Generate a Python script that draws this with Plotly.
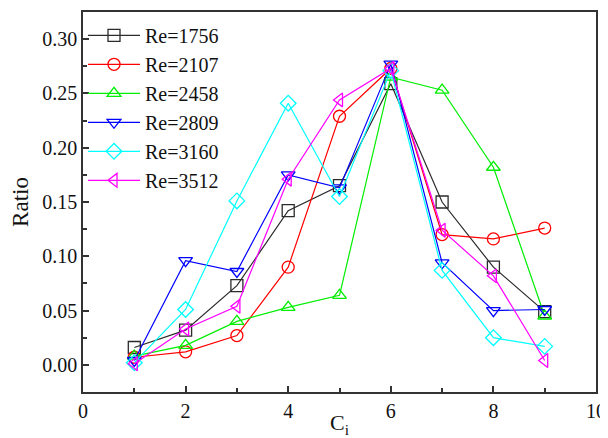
import plotly.graph_objects as go

ci = [1, 2, 3, 4, 5, 6, 7, 8, 9]
names = ["Re=1756", "Re=2107", "Re=2458", "Re=2809", "Re=3160", "Re=3512"]
re1756 = [0.016, 0.032, 0.073, 0.142, 0.165, 0.259, 0.150, 0.090, 0.049]
re2107 = [0.007, 0.012, 0.027, 0.090, 0.229, 0.273, 0.120, 0.116, 0.126]
re2458 = [0.008, 0.018, 0.040, 0.053, 0.064, 0.265, 0.253, 0.182, 0.045]
re2809 = [0.004, 0.096, 0.086, 0.175, 0.163, 0.277, 0.094, 0.050, 0.051]
re3160 = [0.002, 0.051, 0.151, 0.241, 0.155, 0.271, 0.087, 0.025, 0.017]
re3512 = [0.001, 0.033, 0.054, 0.171, 0.244, 0.273, 0.124, 0.082, 0.004]
series = [re1756, re2107, re2458, re2809, re3160, re3512]
colors = ["#2b2b2b", "#ff0000", "#00ee00", "#0000ff", "#00ffff", "#ff00ff"]
symbols = ["square-open", "circle-open", "triangle-up-open", "triangle-down-open", "diamond-open", "triangle-left-open"]
x_ticks = [0, 2, 4, 6, 8, 10]
y_ticks = [0.00, 0.05, 0.10, 0.15, 0.20, 0.25, 0.30]

font = "Liberation Serif, Times New Roman, serif"
fig = go.Figure()
for name, vals, c, s in zip(names, series, colors, symbols):
    fig.add_trace(go.Scatter(
        x=ci, y=vals, name=name, mode="lines+markers",
        line=dict(color=c, width=1.2),
        marker=dict(symbol=s, size=12, color=c, line=dict(color=c, width=1.3)),
    ))

axis_common = dict(showline=True, linecolor="#333333", linewidth=1.5, mirror=True,
                    ticks="inside", tickcolor="#333333", ticklen=6, tickwidth=1.5,
                    showgrid=False, zeroline=False, automargin=False,
                    tickfont=dict(family=font, size=20, color="#111"))
fig.update_xaxes(range=[0, 10], tickvals=x_ticks, ticktext=[str(v) for v in x_ticks],
                 minor=dict(dtick=1, tick0=0, ticks="inside", ticklen=4, tickcolor="#333333"),
                 title=dict(text="C<sub>i</sub>", font=dict(family=font, size=22, color="#111"), standoff=1),
                 **axis_common)
fig.update_yaxes(range=[-0.025, 0.325], tickvals=y_ticks, ticktext=[f"{v:.2f}" for v in y_ticks],
                 minor=dict(dtick=0.025, tick0=0, ticks="inside", ticklen=4, tickcolor="#333333"),
                 title=dict(text="Ratio", font=dict(family=font, size=23, color="#111"), standoff=14),
                 **axis_common)
fig.update_layout(
    width=600, height=430,
    margin=dict(l=75, r=12, t=4, b=46),
    paper_bgcolor="white", plot_bgcolor="white",
    font=dict(family=font, color="#111"),
    legend=dict(x=0.0, y=0.99, xanchor="left", yanchor="top", bgcolor="rgba(0,0,0,0)",
                font=dict(family=font, size=20, color="#111"), tracegroupgap=0,
                itemwidth=52),
    showlegend=True,
)
fig.write_html("out.html")
